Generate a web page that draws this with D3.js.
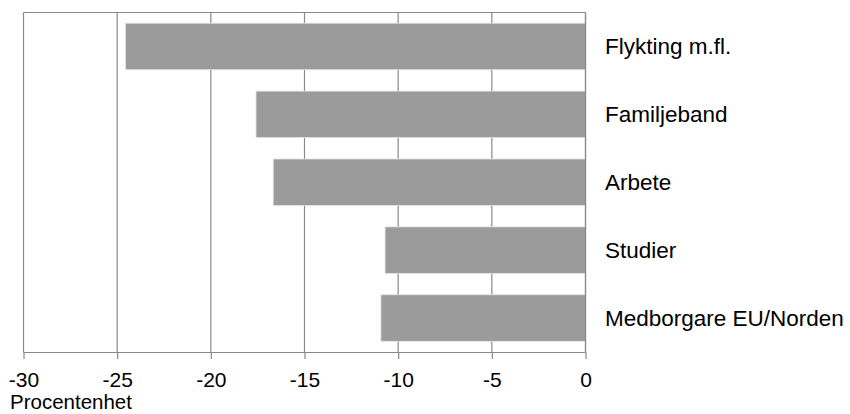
<!DOCTYPE html>
<html><head><meta charset="utf-8">
<script src="https://cdn.jsdelivr.net/npm/d3@7"></script>
<style>body{margin:0;background:#fff;}svg{display:block;font-family:"Liberation Sans",Arial,sans-serif;}</style>
</head><body>
<svg id="c" width="850" height="414"></svg>
<script>
const categories = ["Flykting m.fl.", "Familjeband", "Arbete", "Studier", "Medborgare EU/Norden"];
const values = [-24.55, -17.59, -16.67, -10.70, -10.92];
const tickValues = [-30, -25, -20, -15, -10, -5, 0];
const axisTitle = "Procentenhet";

const svg = d3.select("#c");
const L = 23.5, R = 585.5, T = 12.5, B = 352;
const FS = 22.5, FSTick = 21, FSTitle = 20.5;
const x = d3.scaleLinear().domain([-30, 0]).range([L, R]);
const y = d3.scaleBand().domain(categories).range([T, B]).paddingInner(0.315).paddingOuter(0.1575);
const grid = "#898989";

// gridlines
svg.append("g").selectAll("line").data(tickValues).join("line")
  .attr("x1", d => x(d)).attr("x2", d => x(d)).attr("y1", T).attr("y2", B)
  .attr("stroke", grid).attr("stroke-width", 1.2);
// top border
svg.append("line").attr("x1", L).attr("x2", R).attr("y1", T).attr("y2", T)
  .attr("stroke", grid).attr("stroke-width", 1.2);

// bars
svg.append("g").selectAll("rect").data(values).join("rect")
  .attr("x", d => x(d)).attr("width", d => x(0) - x(d))
  .attr("y", (d, i) => y(categories[i])).attr("height", y.bandwidth())
  .attr("fill", "#9b9b9b").attr("stroke", "#e4e4e4").attr("stroke-width", 0.8);

// zero line on top
svg.append("line").attr("x1", x(0)).attr("x2", x(0)).attr("y1", T).attr("y2", B)
  .attr("stroke", grid).attr("stroke-width", 1.2);

// axis
const ax = svg.append("g").attr("transform", `translate(0,${B})`)
  .call(d3.axisBottom(x).tickValues(tickValues).tickSize(7).tickPadding(12.6).tickFormat(d => String(d)));
ax.attr("font-size", FSTick).attr("font-family", '"Liberation Sans",Arial,sans-serif');
ax.select(".domain").attr("stroke", grid).attr("stroke-width", 1.2).attr("d", `M${L},0.5H${R}`);
ax.selectAll(".tick line").attr("stroke", grid).attr("stroke-width", 1.2);
ax.selectAll(".tick text").attr("fill", "#000").attr("font-size", FSTick);

// category labels
svg.append("g").selectAll("text").data(categories).join("text")
  .attr("x", 605).attr("y", d => y(d) + y.bandwidth() / 2).attr("dy", "0.35em")
  .attr("font-size", FS).attr("fill", "#000").text(d => d);

svg.append("text").attr("x", 10).attr("y", 409.3).attr("font-size", FSTitle).attr("fill", "#000").text(axisTitle);
</script>
</body></html>
